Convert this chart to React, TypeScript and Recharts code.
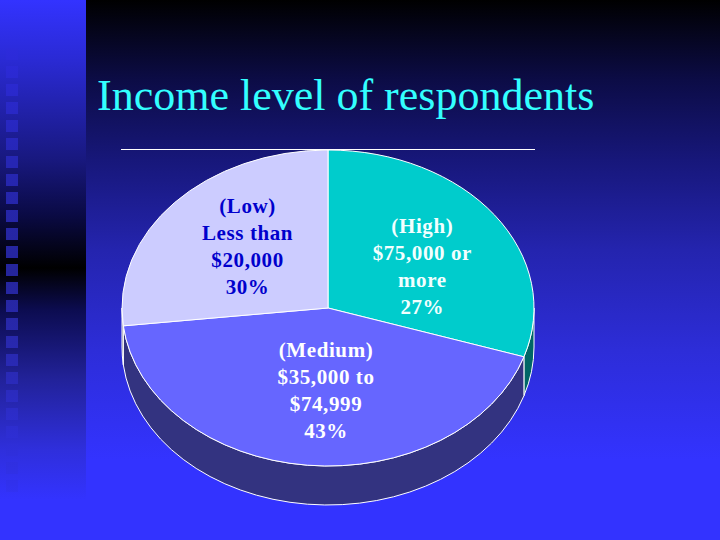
import { Pie, PieChart } from "recharts";

const CATEGORIES = ["High", "Medium", "Low"];
// slice sizes as drawn in the picture; the printed percentages differ for High and Low
const SLICE_SHARES = [30, 43.2, 26.8];
const SLICE_LABELS = [
  ["(High)", "$75,000 or", "more", "27%"],
  ["(Medium)", "$35,000 to", "$74,999", "43%"],
  ["(Low)", "Less than", "$20,000", "30%"],
];
const FACE_COLORS = ["#00cccc", "#6666ff", "#ccccff"];
const WALL_COLORS = ["#006666", "#333380", "#666680"];
const LABEL_COLORS = ["#f2ffff", "#ffffff", "#0000cc"];
const TITLE = "Income level of respondents";

const SQUASH = 158 / 206;
const DEPTH = 39;
const LABEL_RADIUS = 0.53;
const LABEL_SHIFT = [
  [6, 8],
  [9, -1],
  [1, -6],
];
const LINE_HEIGHT = 27;

const chartData = CATEGORIES.map((name, i) => ({
  name,
  value: SLICE_SHARES[i],
  fill: FACE_COLORS[i],
  wall: WALL_COLORS[i],
  lines: SLICE_LABELS[i],
  labelColor: LABEL_COLORS[i],
}));

const STRIP_GRADIENT =
  "linear-gradient(180deg, #3333ff 0px, #2a2ad4 60px, #18187e 160px, #0a0a44 215px, #000000 268px, #0c0c50 310px, #22229a 380px, #2f2fdc 450px, #3333ff 500px)";
const PANEL_GRADIENT =
  "linear-gradient(180deg, #000000 0px, #0c0c46 80px, #17177a 160px, #2424ae 250px, #2d2dd8 350px, #3333ff 460px)";
const SQUARE_GRADIENT =
  "linear-gradient(180deg, #3030ea 0px, #2c2ad8 60px, #2626b4 160px, #25259c 270px, #2a2ab8 380px, #3030e4 470px, #3333ff 510px)";

const SQUARE_TOPS = Array.from({ length: 25 }, (_, i) => 48 + i * 18);

function point(cx: number, cy: number, r: number, deg: number, drop = 0) {
  const a = (deg * Math.PI) / 180;
  return {
    x: cx + r * Math.cos(a),
    y: cy - r * SQUASH * Math.sin(a) + drop,
  };
}

function FaceSector(props: any) {
  const { cx, cy, outerRadius: r, startAngle, endAngle, fill } = props;
  const p0 = point(cx, cy, r, startAngle);
  const p1 = point(cx, cy, r, endAngle);
  const large = Math.abs(startAngle - endAngle) > 180 ? 1 : 0;
  const d = `M${cx},${cy} L${p0.x},${p0.y} A${r},${r * SQUASH} 0 ${large} 1 ${p1.x},${p1.y} Z`;
  return <path d={d} fill={fill} stroke="#ffffff" strokeWidth={1} />;
}

// side wall of the slice, only where the rim faces the viewer
function WallSector(props: any) {
  const { cx, cy, outerRadius: r, startAngle, endAngle, wall } = props;
  const from = Math.min(startAngle, 0);
  const to = Math.max(endAngle, -180);
  if (from <= to) return <g />;
  const t0 = point(cx, cy, r, from);
  const t1 = point(cx, cy, r, to);
  const b0 = point(cx, cy, r, from, DEPTH);
  const b1 = point(cx, cy, r, to, DEPTH);
  const ry = r * SQUASH;
  const d = `M${t0.x},${t0.y} A${r},${ry} 0 0 1 ${t1.x},${t1.y} L${b1.x},${b1.y} A${r},${ry} 0 0 0 ${b0.x},${b0.y} Z`;
  return <path d={d} fill={wall} stroke="#ffffff" strokeWidth={1} />;
}

function SliceLabel(props: any) {
  const { cx, cy, outerRadius, midAngle, index } = props;
  const row = chartData[index];
  const c = point(cx, cy, outerRadius * LABEL_RADIUS, midAngle);
  const x = c.x + LABEL_SHIFT[index][0];
  const y = c.y + LABEL_SHIFT[index][1] - (LINE_HEIGHT * (row.lines.length - 1)) / 2;
  return (
    <text
      x={x}
      y={y}
      textAnchor="middle"
      dominantBaseline="central"
      fill={row.labelColor}
      fontFamily="'Liberation Serif', serif"
      fontWeight="bold"
      fontSize={21}
      letterSpacing={0.6}
    >
      {row.lines.map((line: string, i: number) => (
        <tspan key={line} x={x} y={y + i * LINE_HEIGHT}>
          {line}
        </tspan>
      ))}
    </text>
  );
}

export default function App() {
  return (
    <div
      style={{
        position: "absolute",
        left: 0,
        top: 0,
        width: 720,
        height: 540,
        overflow: "hidden",
        background: PANEL_GRADIENT,
      }}
    >
      <div
        style={{
          position: "absolute",
          left: 0,
          top: 0,
          width: 86,
          height: 540,
          background: STRIP_GRADIENT,
        }}
      />
      {SQUARE_TOPS.map((top) => (
        <div
          key={top}
          style={{
            position: "absolute",
            left: 6,
            top,
            width: 12,
            height: 12,
            background: SQUARE_GRADIENT,
            backgroundSize: "12px 540px",
            backgroundPosition: `0 ${-top}px`,
          }}
        />
      ))}
      <div
        style={{
          position: "absolute",
          left: 97,
          top: 70,
          color: "#33ffff",
          fontFamily: "'Liberation Serif', serif",
          fontSize: 44,
          lineHeight: "52px",
          whiteSpace: "nowrap",
        }}
      >
        {TITLE}
      </div>
      <div
        style={{
          position: "absolute",
          left: 121,
          top: 149,
          width: 414,
          height: 1,
          background: "#ffffff",
        }}
      />
      <div style={{ position: "absolute", left: 0, top: 0 }}>
        <PieChart width={720} height={540} margin={{ top: 0, right: 0, bottom: 0, left: 0 }}>
          <Pie
            data={chartData}
            dataKey="value"
            cx={328}
            cy={308}
            outerRadius={206}
            startAngle={90}
            endAngle={-270}
            paddingAngle={0}
            isAnimationActive={false}
            shape={WallSector}
            label={false}
            labelLine={false}
          />
          <Pie
            data={chartData}
            dataKey="value"
            cx={328}
            cy={308}
            outerRadius={206}
            startAngle={90}
            endAngle={-270}
            paddingAngle={0}
            isAnimationActive={false}
            shape={FaceSector}
            label={SliceLabel}
            labelLine={false}
          />
        </PieChart>
      </div>
    </div>
  );
}
